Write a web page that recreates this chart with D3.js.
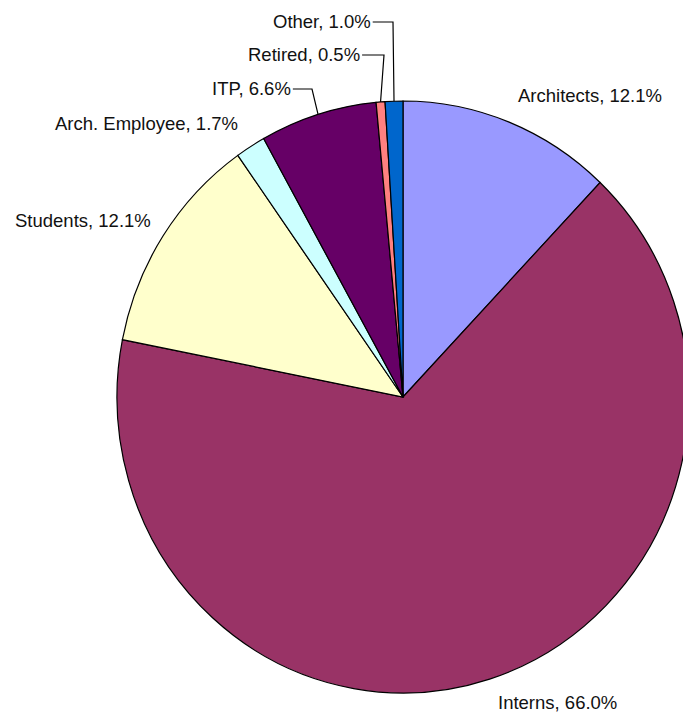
<!DOCTYPE html>
<html>
<head>
<meta charset="utf-8">
<script src="https://cdn.jsdelivr.net/npm/d3@7"></script>
<style>
  html, body { margin: 0; padding: 0; background: #fff; }
  svg { display: block; }
  text { font-family: "Liberation Sans", Arial, Helvetica, sans-serif; font-size: 18.5px; fill: #111; }
</style>
</head>
<body>
<svg id="chart" width="683" height="715"></svg>
<script>
// Data (clockwise from 12 o'clock)
const categories = ["Architects", "Interns", "Students", "Arch. Employee", "ITP", "Retired", "Other"];
const values = [12.1, 66.0, 12.1, 1.7, 6.6, 0.5, 1.0];
const colors = ["#9999FF", "#993366", "#FFFFCC", "#CCFFFF", "#660066", "#FF8080", "#0066CC"];

// Layout
const cx = 403, cy = 397, ry = 296, rx = 286;
const labelPos = {
  "Architects":     {x: 518, y: 102, leader: null},
  "Interns":        {x: 498, y: 709, leader: null},
  "Students":       {x: 15,  y: 227, leader: null},
  "Arch. Employee": {x: 55,  y: 130, leader: null},
  "ITP":            {x: 212, y: 95,  leader: {hy: 89, ex: 312}},
  "Retired":        {x: 248, y: 61,  leader: {hy: 55, ex: 384}},
  "Other":          {x: 273, y: 28,  leader: {hy: 22, ex: 393}}
};

const svg = d3.select("#chart");
const data = categories.map((c, i) => ({cat: c, value: values[i], color: colors[i]}));

const pie = d3.pie().value(d => d.value).sort(null);
const arcs = pie(data);
const arc = d3.arc().innerRadius(0).outerRadius(ry);

const g = svg.append("g").attr("transform", `translate(${cx},${cy}) scale(${rx / ry},1)`);
g.selectAll("path").data(arcs).join("path")
  .attr("d", arc)
  .attr("fill", d => d.data.color)
  .attr("stroke", "#000")
  .attr("stroke-width", 1.2)
  .attr("vector-effect", "non-scaling-stroke");

// Labels
const labels = svg.append("g");
arcs.forEach(a => {
  const p = labelPos[a.data.cat];
  const t = labels.append("text")
    .attr("x", p.x).attr("y", p.y)
    .text(`${a.data.cat}, ${a.data.value.toFixed(1)}%`);
  if (p.leader) {
    const w = t.node().getComputedTextLength();
    const mid = (a.startAngle + a.endAngle) / 2;
    const tx = cx + rx * Math.sin(mid);
    const ty = cy - ry * Math.cos(mid);
    labels.append("polyline")
      .attr("points", [[p.x + w + 2, p.leader.hy], [p.leader.ex, p.leader.hy], [tx, ty]].map(q => q.join(",")).join(" "))
      .attr("fill", "none")
      .attr("stroke", "#000")
      .attr("stroke-width", 1.2);
  }
});
</script>
</body>
</html>
